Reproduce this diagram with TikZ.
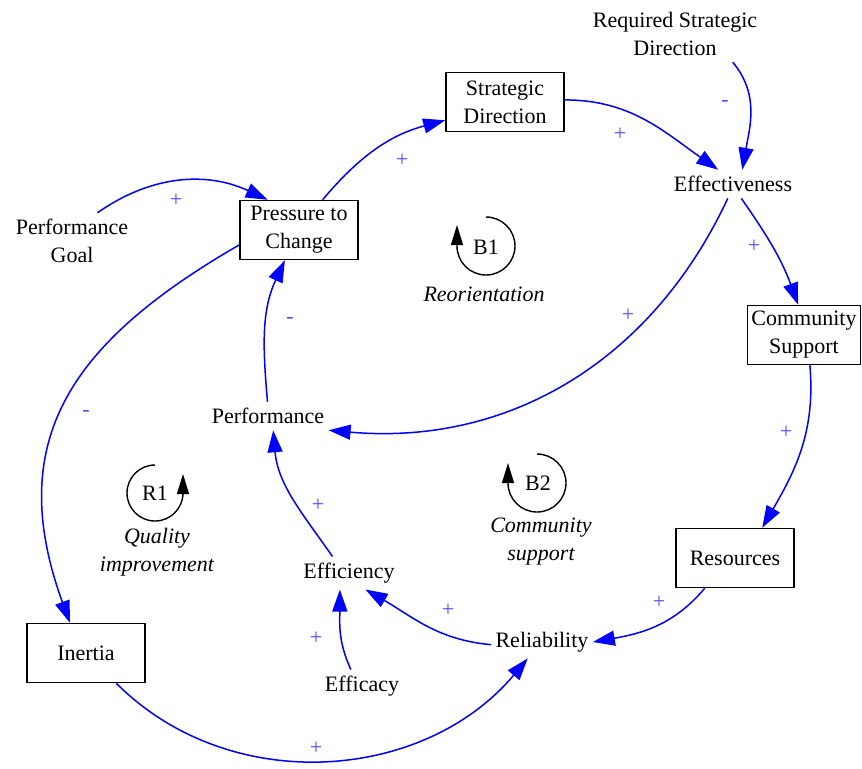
\documentclass[tikz,border=0pt]{standalone}
\usepackage{fontspec}
\setmainfont{Liberation Serif}
\usetikzlibrary{arrows.meta}
\tikzset{
  every node/.style={font=\fontsize{11}{14}\selectfont},
  var/.style={inner xsep=2pt,inner ysep=3pt,align=center},
  stock/.style={draw,line width=0.75pt,rectangle,minimum width=59pt,minimum height=29.5pt,inner sep=2pt,align=center},
  link/.style={blue,line width=0.75pt,-{Triangle[length=11pt,width=7.5pt]}},
  sign/.style={text=blue!70,inner sep=0pt},
  loopmark/.style={line width=0.7pt,-{Triangle[length=10pt,width=6pt]}},
}
\begin{document}
\begin{tikzpicture}[x=0.5pt,y=0.5pt]
    \useasboundingbox (0,0) rectangle (862,-768);
    %% variables
    \node[var] (reqdir) at (675,-34) {Required Strategic\\Direction};
    \node[stock] (stratdir) at (505,-102) {Strategic\\Direction};
    \node[var] (effect) at (733,-184) {Effectiveness};
    \node[var] (perfgoal) at (72,-241) {Performance\\Goal};
    \node[stock] (pressure) at (299,-230) {Pressure to\\Change};
    \node[stock,minimum width=55pt] (commsup) at (804,-335) {Community\\Support};
    \node[var] (perf) at (268,-416) {Performance};
    \node[stock] (resources) at (735,-558) {Resources};
    \node[var] (efficiency) at (349,-573) {Efficiency};
    \node[stock] (inertia) at (86,-653) {Inertia};
    \node[var] (reliab) at (542,-642) {Reliability};
    \node[var] (efficacy) at (362,-686) {Efficacy};
    %% links
    \draw[link] (reqdir.-26) to[out=-50,in=80] (effect.57);
    \draw[link] (stratdir.2) to[out=0,in=145] (effect.136);
    \draw[link] (effect.-60) to[out=-55,in=110] (commsup.101);
    \draw[link] (effect.-110) to[out=-115,in=-5] (perf.south east);
    \draw[link] (pressure.52) to[out=50,in=195] (stratdir.197);
    \draw[link] (perfgoal.48) to[out=35,in=155] (pressure.136);
    \draw[link] (pressure.194) to[out=210,in=110,looseness=1.2] (inertia.118);
    \draw[link] (perf.92) to[out=95,in=-115] (pressure.245);
    \draw[link] (efficiency.135) to[out=125,in=-85] (perf.-70);
    \draw[link] (efficacy.124) to[out=115,in=-90] (efficiency.-119);
    \draw[link] (reliab.183) to[out=175,in=-30] (efficiency.-45);
    \draw[link] (resources.-135) to[out=-130,in=10] (reliab.east);
    \draw[link] (commsup.-79) to[out=-85,in=60] (resources.48);
    \draw[link] (inertia.-45) to[out=-45,in=-130] (reliab.-131);
    %% polarities
    \node[sign] (s1) at (725,-103) {-};
    \node[sign] (s2) at (620,-134) {+};
    \node[sign] (s3) at (754,-246) {+};
    \node[sign] (s4) at (628,-315) {+};
    \node[sign] (s5) at (402,-160) {+};
    \node[sign] (s6) at (176,-200) {+};
    \node[sign] (s7) at (86,-413) {-};
    \node[sign] (s8) at (290,-320) {-};
    \node[sign] (s9) at (318,-505) {+};
    \node[sign] (s10) at (316,-638) {+};
    \node[sign] (s11) at (448,-610) {+};
    \node[sign] (s12) at (659,-602) {+};
    \node[sign] (s13) at (786,-432) {+};
    \node[sign] (s14) at (316,-748) {+};
    %% loops
    \draw[loopmark] (486,-217) arc[start angle=90,end angle=-180,radius=29] -- ++(0,21);
    \node (b1) at (486,-247) {B1};
    \node[font=\fontsize{11}{14}\selectfont\itshape] (b1name) at (484,-294) {Reorientation};
    \draw[loopmark] (155,-465) arc[start angle=90,end angle=360,radius=28] -- ++(0,19);
    \node (r1) at (155,-493) {R1};
    \node[align=center,font=\fontsize{11}{14}\selectfont\itshape] (r1name) at (157,-552) {Quality\\improvement};
    \draw[loopmark] (537,-454) arc[start angle=90,end angle=-180,radius=29] -- ++(0,20);
    \node (b2) at (538,-483) {B2};
    \node[align=center,font=\fontsize{11}{14}\selectfont\itshape] (b2name) at (541,-542) {Community\\support};
\end{tikzpicture}
\end{document}
